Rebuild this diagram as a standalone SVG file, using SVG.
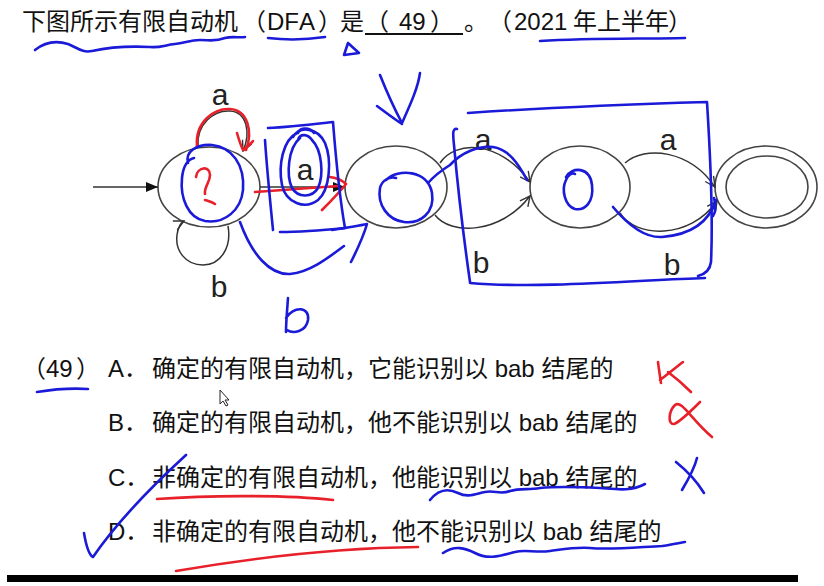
<svg xmlns="http://www.w3.org/2000/svg" width="824" height="586" viewBox="0 0 824 586">
<style>
.t{font-family:"Liberation Sans","Noto Sans CJK SC",sans-serif;font-size:24px;fill:#111;text-spacing-trim:space-all;font-kerning:none}
.lbl{font-family:"Liberation Sans",sans-serif;font-size:30px;fill:#222;text-anchor:middle}
.node{fill:#fff;stroke:#444;stroke-width:1.6}
.edge{fill:none;stroke:#333;stroke-width:1.5}
.blue{fill:none;stroke:#1a1ad8;stroke-width:2.6;stroke-linecap:round;stroke-linejoin:round}
.red{fill:none;stroke:#e8202a;stroke-width:2.6;stroke-linecap:round;stroke-linejoin:round}
</style>
<defs>
<marker id="arrFill" viewBox="0 0 12 10" refX="12" refY="5" markerWidth="12" markerHeight="10" markerUnits="userSpaceOnUse" orient="auto"><path d="M0,0 L12,5 L0,10 Z" fill="#111"/></marker>
<marker id="arrOpen" viewBox="0 0 12 12" refX="11" refY="6" markerWidth="12" markerHeight="12" markerUnits="userSpaceOnUse" orient="auto"><path d="M1,1 L11,6 L1,11" fill="none" stroke="#333" stroke-width="1.4"/></marker>
</defs>
<rect width="824" height="586" fill="#fff"/>

<!-- title -->
<text class="t" x="22" y="30">下图所示有限自动机</text>
<text class="t" x="242" y="30">（</text>
<text class="t" x="267" y="30">DFA</text>
<text class="t" x="318" y="30">）</text>
<text class="t" x="340" y="30">是</text>
<text class="t" x="365" y="30">（</text>
<text class="t" x="399" y="30">49</text>
<text class="t" x="430" y="30">）</text>
<line x1="365" y1="34" x2="463" y2="34" stroke="#111" stroke-width="2"/>
<text class="t" x="464" y="30">。</text>
<text class="t" x="488" y="30">（</text>
<text class="t" x="514" y="30">2021</text>
<text class="t" x="573" y="30">年上半年</text>
<text class="t" x="668" y="30">）</text>

<!-- nodes -->
<g id="s0"><ellipse class="node" cx="209" cy="187" rx="51" ry="40"/></g>
<g id="s1"><ellipse class="node" cx="396" cy="187" rx="51" ry="41"/></g>
<g id="s2"><ellipse class="node" cx="580" cy="187" rx="50" ry="41"/></g>
<g id="s3"><ellipse class="node" cx="766" cy="187" rx="51" ry="41"/><ellipse class="node" cx="767" cy="187" rx="41" ry="31"/></g>

<!-- connectors -->
<g id="edges">
<line class="edge" x1="93" y1="187" x2="158" y2="187" marker-end="url(#arrFill)"/>
<line class="edge" x1="260" y1="187" x2="345" y2="187" marker-end="url(#arrFill)"/>
<path class="edge" d="M198,147 C196,124 214,110 230,111 C247,112 251,133 243,151" marker-end="url(#arrOpen)"/>
<path class="edge" d="M228,226 C232,248 220,265 203,265 C185,265 175,250 177,235 C178,228 180,223 184,221" marker-end="url(#arrOpen)"/>
<path class="edge" d="M440,163 C455,140 500,140 530,182" marker-end="url(#arrOpen)"/>
<path class="edge" d="M435,215 C450,235 500,235 530,196" marker-end="url(#arrOpen)"/>
<path class="edge" d="M625,163 C645,145 690,150 715,187" marker-end="url(#arrOpen)"/>
<path class="edge" d="M620,213 C635,238 690,240 717,201" marker-end="url(#arrOpen)"/>
<text class="lbl" x="220" y="105">a</text>
<text class="lbl" x="219" y="297">b</text>
<text class="lbl" x="305" y="180">a</text>
<text class="lbl" x="483" y="150">a</text>
<text class="lbl" x="481" y="273">b</text>
<text class="lbl" x="668" y="150">a</text>
<text class="lbl" x="672" y="275">b</text>
</g>

<!-- options -->
<text class="t" x="22" y="377">（</text>
<text class="t" x="46" y="377">49</text>
<text class="t" x="76" y="377">）</text>
<text class="t" x="108" y="377">A．</text>
<text class="t" x="152" y="377">确定的有限自动机，它能识别以 bab 结尾的</text>
<text class="t" x="108" y="431">B．</text>
<text class="t" x="152" y="431">确定的有限自动机，他不能识别以 bab 结尾的</text>
<text class="t" x="108" y="486">C．</text>
<text class="t" x="152" y="486">非确定的有限自动机，他能识别以 bab 结尾的</text>
<text class="t" x="108" y="540">D．</text>
<text class="t" x="152" y="540">非确定的有限自动机，他不能识别以 bab 结尾的</text>

<rect x="7" y="575" width="791" height="7" fill="#000"/>

<!-- mouse cursor -->
<path d="M220,390 L220,404 L223,401 L226,406 L228,405 L225,400 L229,400 Z" fill="#fff" stroke="#222" stroke-width="1"/>

<!-- annotations: red -->
<g id="red-marks">
<path class="red" d="M197,146 C195,122 214,108 230,109 C248,110 253,132 246,150"/>
<path class="red" d="M237,133 C239,140 241,146 243,150 C247,147 251,144 253,141"/>
<path class="red" d="M196,177 C197,167 210,165 210,175 C210,183 204,186 205,194 M205,200 C208,201 212,202 215,204"/>
<path class="red" d="M255,192 C280,190 310,188 338,186 M330,177 C337,178 342,180 346,184 C339,193 330,202 322,210"/>
<path class="red" d="M658,362 C659,370 660,376 661,383 M683,362 C675,368 667,375 660,380 M668,372 C676,378 684,385 691,392"/>
<path class="red" d="M700,402 C690,412 680,422 674,424 C668,425 668,412 675,405 C682,400 690,418 712,437"/>
<path class="red" d="M157,499 C200,496 280,494 333,500"/>
<path class="red" d="M176,571 C240,560 330,548 418,547"/>
</g>

<!-- annotations: blue -->
<g id="blue-marks">
<path class="blue" d="M35,50 C45,42 55,40 68,44 C78,48 82,53 92,51 C110,47 130,46 150,47 C160,48 165,45 175,44 C185,43 190,40 200,40 C210,40 215,42 225,38 C232,36 240,38 245,37"/>
<path class="blue" d="M268,38 C285,40 305,40 325,37"/>
<path class="blue" d="M348,43 L344,55 L359,53 Z"/>
<path class="blue" d="M540,41 C590,38 640,39 685,38"/>
<path class="blue" d="M188,163 C185,152 196,144 212,145 C232,147 245,165 243,190 C241,210 225,224 205,221 C188,218 180,198 182,178 C183,168 186,160 194,158"/>
<path class="blue" d="M297,133 C283,140 278,165 282,185 C286,203 305,210 318,200 C330,190 332,160 325,143 C318,128 300,125 293,137"/>
<path class="blue" d="M300,138 C288,148 286,175 292,188 C298,198 312,198 318,188 C324,175 322,150 312,140 C308,134 300,133 298,140 M298,133 C300,127 310,127 314,133"/>
<path class="blue" d="M268,128 C290,127 315,124 333,122 C336,160 340,200 345,228 C325,230 300,232 280,232 M265,140 C267,170 270,200 273,230"/>
<path class="blue" d="M240,222 C252,255 270,275 290,274 C310,272 328,258 344,246 M332,230 C345,228 358,226 367,224 C363,238 357,250 351,262"/>
<path class="blue" d="M288,298 C287,312 286,322 286,332 M286,318 C293,306 310,306 308,320 C306,332 293,334 287,330"/>
<path class="blue" d="M380,75 C388,95 395,110 402,123 C410,105 418,88 420,73 M377,106 C385,112 393,118 402,124"/>
<path class="blue" d="M386,180 C398,168 428,170 432,193 C435,213 420,224 404,222 C388,220 377,205 380,188 C382,180 390,176 396,178"/>
<path class="blue" d="M428,183 C435,175 442,170 450,165 C462,152 478,146 493,147 C508,149 518,163 527,180"/>
<path class="blue" d="M566,177 C572,166 590,167 592,185 C594,202 585,211 575,209 C565,206 561,190 566,180 C568,175 572,172 575,174"/>
<path class="blue" d="M468,113 C540,108 640,104 707,102 C710,150 713,220 711,262 C710,270 706,274 698,276"/>
<path class="blue" d="M470,283 C540,289 640,280 705,278"/>
<path class="blue" d="M457,129 C452,128 453,135 454,145 C458,190 464,240 470,282"/>
<path class="blue" d="M613,207 C628,225 645,238 662,237 C688,235 708,225 716,200 M714,198 C716,206 716,212 713,216"/>
<path class="blue" d="M37,392 C55,389 72,388 88,389"/>
<path class="blue" d="M84,533 C86,545 89,555 93,557 C115,525 150,488 186,455"/>
<path class="blue" d="M430,500 C438,490 448,488 458,493 C468,498 475,494 485,492 C495,490 500,495 510,491 C520,488 528,490 540,488 C560,486 580,487 600,488 C615,489 630,492 645,484"/>
<path class="blue" d="M443,553 C455,545 465,548 475,553 C488,560 500,556 515,552 C525,549 535,553 550,551 C565,549 575,547 590,548 C610,550 640,547 662,546 C670,545 678,543 685,542"/>
<path class="blue" d="M676,462 C686,470 696,480 704,493 M697,458 C694,470 688,480 682,490"/>
</g>
</svg>
